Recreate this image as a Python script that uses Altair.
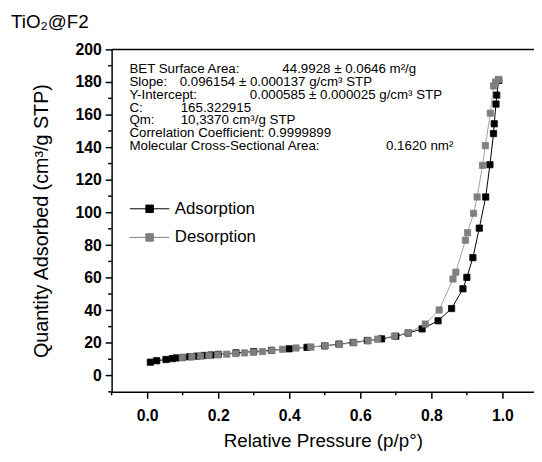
import altair as alt
import pandas as pd

# ---- data ----
ads_p = [0.009, 0.027, 0.053, 0.071, 0.082, 0.10, 0.12, 0.14, 0.16, 0.18, 0.20, 0.25, 0.30,
         0.35, 0.40, 0.45, 0.50, 0.54, 0.58, 0.62, 0.66, 0.70, 0.735, 0.774, 0.819, 0.857,
         0.889, 0.900, 0.917, 0.935, 0.953, 0.965, 0.975, 0.977, 0.982, 0.984, 0.990]
ads_v = [8.2, 9.1, 9.85, 10.4, 10.8, 11.1, 11.5, 11.9, 12.3, 12.6, 13.0, 13.9, 14.7,
         15.5, 16.4, 17.3, 18.2, 19.3, 20.3, 21.5, 22.5, 24.1, 26.1, 28.6, 33.6, 41.1,
         53.2, 60.2, 72.3, 90.4, 109.5, 129.3, 148.4, 154.4, 166.5, 172.0, 181.0]
des_p = [0.099, 0.126, 0.150, 0.174, 0.199, 0.224, 0.249, 0.274, 0.299, 0.325, 0.351,
         0.381, 0.419, 0.461, 0.501, 0.541, 0.582, 0.622, 0.649, 0.696, 0.735, 0.783,
         0.822, 0.861, 0.869, 0.896, 0.902, 0.919, 0.929, 0.944, 0.952, 0.966, 0.975,
         0.981, 0.989]
des_v = [11.0, 11.5, 11.9, 12.3, 12.7, 13.1, 13.5, 13.9, 14.3, 14.7, 15.3,
         16.1, 16.9, 17.5, 18.3, 19.1, 20.1, 21.3, 22.3, 24.2, 26.3, 31.6,
         40.2, 59.2, 63.4, 83.0, 87.6, 99.5, 109.5, 128.9, 141.0, 160.9, 177.6,
         180.0, 181.6]
series_names = ["Adsorption", "Desorption"]
x_major = [0.0, 0.2, 0.4, 0.6, 0.8, 1.0]
x_minor = [-0.1, 0.1, 0.3, 0.5, 0.7, 0.9]
y_major = list(range(0, 201, 20))
y_minor = list(range(-10, 200, 20))
panel_label = "TiO₂@F2"
x_title = "Relative Pressure (p/p°)"
y_title = "Quantity Adsorbed (cm³/g STP)"
ann_text = [
    "BET Surface Area:", "44.9928 ± 0.0646 m²/g",
    "Slope:", "0.096154 ± 0.000137 g/cm³ STP",
    "Y-Intercept:", "0.000585 ± 0.000025 g/cm³ STP",
    "C:", "165.322915",
    "Qm:", "10,3370 cm³/g STP",
    "Correlation Coefficient: 0.9999899",
    "Molecular Cross-Sectional Area:", "0.1620 nm²",
]

# ---- layout (pixels within plot area) ----
ann_x = [18, 173, 18, 69, 18, 140, 18, 70, 18, 70, 18, 18, 278]
ann_y = [20, 20, 33, 33, 46, 46, 59, 59, 72, 72, 85, 98, 98]

FONT = "Liberation Sans"
W, H = 428, 347

df = pd.concat([
    pd.DataFrame({"p": ads_p, "v": ads_v, "series": series_names[0]}),
    pd.DataFrame({"p": des_p, "v": des_v, "series": series_names[1]}),
])

xs = alt.Scale(domain=[-0.1, 1.089], nice=False, zero=False)
ys = alt.Scale(domain=[-10, 200], nice=False, zero=False)

x_axis = alt.Axis(
    values=x_major, title=x_title, grid=False, format=".1f", domain=True,
    tickSize=6.5, labelFontWeight="bold", labelFontSize=16, labelPadding=10, labelOverlap=False,
    titleFontSize=19, titleFontWeight="normal", titlePadding=8,
)
y_axis = alt.Axis(
    values=y_major, title=y_title, grid=False, format="d", domain=True,
    tickSize=6.5, labelFontWeight="bold", labelFontSize=16, labelPadding=4, labelOverlap=False,
    titleFontSize=20, titleFontWeight="normal", titlePadding=24,
)

X = lambda f: alt.X(f, scale=xs, axis=x_axis)
Y = lambda f: alt.Y(f, scale=ys, axis=y_axis)

base = alt.Chart(df).encode(x=X("p:Q"), y=Y("v:Q"))

lines = base.mark_line(strokeWidth=1).encode(
    color=alt.Color("series:N", scale=alt.Scale(domain=series_names, range=["#000000", "#a0a0a0"]), legend=None),
    detail="series:N",
)

legend_path = "M-1,0H1M-0.19,-0.19H0.19V0.19H-0.19Z"
pt_scale = alt.Scale(domain=series_names, range=["#000000", "#7f7f7f"])
pt_legend = alt.Legend(
    title=None, orient="none", legendX=18, legendY=141,
    symbolType=legend_path, symbolSize=1600, symbolStrokeWidth=1,
    labelFontSize=17, labelFont=FONT, labelOffset=5, rowPadding=-11,
    symbolOpacity=1,
)
points = base.mark_point(shape="square", filled=True, size=40, opacity=1, strokeWidth=0.8).encode(
    fill=alt.Fill("series:N", scale=pt_scale, legend=pt_legend),
    stroke=alt.Stroke("series:N", scale=pt_scale, legend=pt_legend),
    order=alt.Order("series:N"),
)

# minor ticks and top frame, positioned through the shared scales
ymin_ticks = alt.Chart(pd.DataFrame({"v": y_minor})).mark_rule(color="black", strokeWidth=1.5).encode(
    y=Y("v:Q"), x=alt.value(-3.5), x2=alt.value(0)
)
xmin_ticks = alt.Chart(pd.DataFrame({"p": x_minor})).mark_rule(color="black", strokeWidth=1.5).encode(
    x=X("p:Q"), y=alt.value(H), y2=alt.value(H + 3.5)
)
top_line = alt.Chart(pd.DataFrame({"v": [200]})).mark_rule(color="black", strokeWidth=1.5).encode(
    y=Y("v:Q")
)

text_layers = []
for t, px, py in zip(ann_text, ann_x, ann_y):
    text_layers.append(
        alt.Chart(pd.DataFrame({"t": [t]})).mark_text(
            align="left", baseline="middle", fontSize=13.5, font=FONT, color="black"
        ).encode(x=alt.value(px), y=alt.value(py), text="t:N")
    )

label = alt.Chart(pd.DataFrame({"t": [panel_label]})).mark_text(
    align="left", baseline="middle", fontSize=19, font=FONT, color="black"
).encode(x=alt.value(-102), y=alt.value(-28), text="t:N")

chart = alt.layer(lines, points, top_line, ymin_ticks, xmin_ticks, *text_layers, label).resolve_scale(
    color="independent"
).properties(
    width=W, height=H,
    autosize=alt.AutoSizeParams(type="none"),
    padding={"left": 105, "top": 39, "right": 0, "bottom": 60},
).configure_view(stroke=None).configure_axis(
    domainColor="black", domainWidth=1.5, tickColor="black", tickWidth=1.5,
    labelColor="black", titleColor="black", labelFont=FONT, titleFont=FONT,
).configure_text(font=FONT)

chart.save("out.html", embed_options={"renderer": "svg", "actions": False})
